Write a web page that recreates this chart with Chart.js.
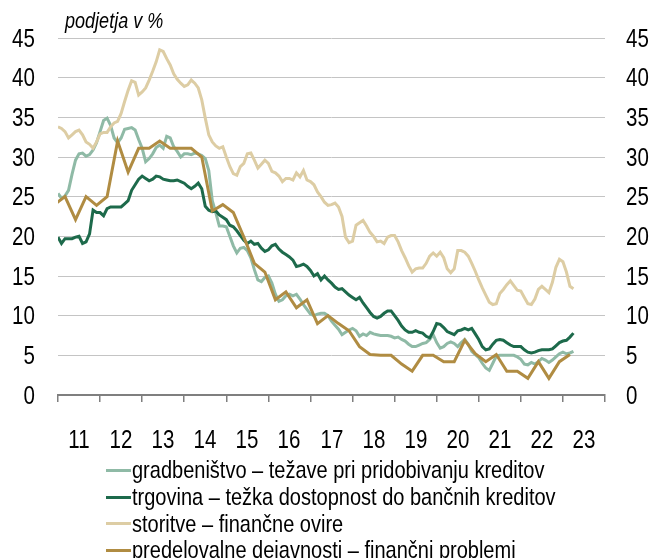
<!DOCTYPE html>
<html>
<head>
<meta charset="utf-8">
<script src="https://cdn.jsdelivr.net/npm/chart.js@4.4.1/dist/chart.umd.min.js"></script>
<style>
  html, body { margin: 0; padding: 0; background: #ffffff; }
  #wrap { position: relative; width: 652px; height: 558px; overflow: hidden; }
  .narrow { display: inline-block; transform: scaleX(0.82); transform-origin: left center; white-space: nowrap; }
  #title { position: absolute; left: 65px; top: 10px; font: italic 22px "Liberation Sans", Arial, sans-serif; color: #000; line-height: 22px; }
  #legend { position: absolute; left: 106px; top: 457px; font: 24.4px "Liberation Sans", Arial, sans-serif; color: #000; }
  .row { height: 26.7px; display: flex; align-items: center; white-space: nowrap; }
  .sw { display: inline-block; width: 25px; height: 3px; margin-right: 1px; flex: none; }
  .lbl { position: absolute; font: 25px "Liberation Sans", Arial, sans-serif; line-height: 25px; white-space: nowrap; color: #000; }
</style>
</head>
<body>
<div id="wrap">
  <canvas id="c" width="652" height="558"></canvas>
  <div id="title"><span class="narrow">podjetja v %</span></div>
  <div id="legend"></div>
</div>
<script>
// x axis: years (labels centred in each year band); monthly data start Jan 2011
const yearLabels = ['11','12','13','14','15','16','17','18','19','20','21','22','23'];
const yTicks = [0, 5, 10, 15, 20, 25, 30, 35, 40, 45];

const seriesNames = [
  'gradbeništvo – težave pri pridobivanju kreditov',
  'trgovina – težka dostopnost do bančnih kreditov',
  'storitve – finančne ovire',
  'predelovalne dejavnosti – finančni problemi'
];

// monthly, Jan 2011 onward
const gradbenistvo = [
  25.4, 24.8, 25.1, 25.8, 27.8, 29.6, 30.4, 30.5, 30.1, 30.3, 30.9, 31.8,
  33.2, 34.6, 34.9, 34.0, 32.4, 31.8, 32.4, 33.5, 33.6, 33.7, 33.4, 32.2,
  31.1, 29.4, 29.8, 30.4, 31.2, 31.5, 31.1, 32.6, 32.4, 31.3, 30.7, 30.0,
  30.4, 30.4, 30.3, 30.5, 30.4, 30.2, 29.8, 28.3, 24.5, 23.0, 21.3, 21.3,
  21.2, 20.0, 18.8, 17.9, 18.5, 18.6, 18.2, 17.3, 15.8, 14.5, 14.3, 14.8,
  15.0, 14.1, 12.7, 11.8, 12.0, 12.5, 12.7, 12.5, 12.7, 12.1, 11.4, 10.8,
  10.2, 10.0, 10.2, 10.3, 10.3, 10.0, 9.3, 8.8, 8.3, 7.6, 7.9, 8.2,
  8.4, 8.1, 7.4, 7.7, 7.5, 7.9, 7.7, 7.6, 7.5, 7.5, 7.5, 7.4,
  7.2, 7.3, 7.0, 6.8, 6.4, 6.1, 6.1, 6.3, 6.5, 6.6, 7.0, 7.6,
  6.6, 5.9, 6.1, 6.5, 6.7, 6.5, 6.1, 6.6, 7.0, 6.4, 5.5, 5.1,
  4.7, 4.0, 3.4, 3.1, 4.0, 4.9, 5.0, 5.0, 5.0, 5.0, 5.0, 4.8,
  4.5, 3.9, 3.8, 4.1, 3.9, 4.2, 4.6, 4.4, 4.1, 4.4, 4.8, 5.2,
  5.4, 5.2, 5.3, 5.5
];

const trgovina = [
  19.9, 19.1, 19.7, 19.7, 19.7, 19.9, 20.0, 19.1, 19.3, 20.3, 23.3, 23.0,
  23.0, 22.6, 23.5, 23.7, 23.7, 23.7, 23.7, 24.1, 24.5, 25.8, 26.5, 27.2,
  27.6, 27.3, 27.0, 27.2, 27.6, 27.5, 27.2, 27.1, 27.0, 27.0, 27.1, 26.9,
  26.7, 26.3, 26.0, 26.3, 26.7, 26.0, 23.8, 23.3, 23.1, 23.2, 22.7, 22.4,
  22.1, 21.4, 21.2, 20.7, 20.1, 19.5, 19.1, 19.4, 19.0, 19.1, 18.5, 18.1,
  18.3, 18.8, 19.0, 18.4, 18.0, 17.7, 17.4, 17.0, 16.2, 16.3, 16.5, 16.2,
  15.7, 15.0, 15.3, 14.5, 15.0, 14.5, 14.1, 13.6, 13.3, 13.4, 13.0, 12.6,
  12.3, 12.0, 12.3, 11.6, 11.0, 10.4, 9.9, 9.7, 9.9, 10.3, 10.6, 10.6,
  10.0, 9.4, 8.7, 8.2, 7.9, 7.9, 8.1, 7.9, 7.8, 7.4, 7.2, 8.0,
  9.0, 8.9, 8.5, 8.0, 7.8, 7.6, 8.1, 8.2, 8.4, 8.2, 8.4, 7.7,
  7.0, 6.1, 5.7, 5.8, 6.4, 6.9, 7.0, 6.9, 6.6, 6.3, 6.1, 6.1,
  6.1, 5.7, 5.4, 5.3, 5.4, 5.6, 5.7, 5.7, 5.7, 5.8, 6.2, 6.6,
  6.8, 6.9, 7.3, 7.8
];

const storitve = [
  33.8, 33.6, 33.2, 32.4, 32.8, 33.2, 33.4, 32.8, 31.9, 31.6, 31.1, 31.9,
  32.9, 33.1, 33.1, 33.8, 34.3, 34.5, 35.5, 37.0, 38.4, 39.6, 39.4, 37.8,
  38.2, 38.7, 39.7, 40.8, 42.0, 43.5, 43.3, 42.4, 41.6, 40.5, 39.8, 39.3,
  38.9, 39.1, 39.7, 39.3, 38.7, 37.2, 34.9, 32.8, 31.9, 31.4, 31.1, 31.3,
  30.0, 28.8, 27.9, 27.7, 28.8, 29.2, 30.4, 30.5, 29.6, 28.6, 29.1, 29.6,
  29.2, 28.2, 28.0, 27.6, 26.9, 27.3, 27.3, 27.1, 28.0, 27.5, 28.3, 27.1,
  26.9, 26.5, 25.6, 25.0, 24.3, 23.9, 24.0, 24.2, 23.7, 22.5, 19.9, 19.2,
  19.4, 21.4, 21.7, 22.0, 21.3, 20.5, 20.0, 19.3, 19.4, 19.1, 19.9, 20.1,
  20.1, 19.3, 18.2, 17.3, 16.3, 15.5, 15.9, 16.0, 16.0, 16.6, 17.5, 17.9,
  17.5, 18.0, 17.3, 15.9, 15.4, 15.9, 18.2, 18.2, 18.0, 17.5, 16.6, 15.6,
  14.5, 13.5, 12.6, 11.7, 11.4, 11.5, 12.8, 13.3, 13.9, 14.4, 13.8, 13.2,
  13.1, 12.3, 11.5, 11.4, 12.1, 13.3, 13.7, 13.3, 12.9, 14.2, 16.1, 17.1,
  16.8, 15.5, 13.7, 13.4
];

// quarterly, Dec 2010 then Mar, Jun, Sep, Dec ...
const predelovalne = [
  24.0,
  25.0, 22.1, 25.0, 23.9,
  25.0, 32.0, 28.1, 31.1,
  31.1, 32.0, 31.1, 31.1,
  31.1, 30.0, 23.2, 24.0,
  23.0, 19.9, 16.6, 15.5,
  12.0, 13.0, 11.0, 12.0,
  9.0, 10.0, 9.0, 8.1,
  6.1, 5.1, 5.0, 5.0,
  3.9, 3.0, 5.0, 5.0,
  4.2, 4.2, 6.9, 5.2,
  4.2, 5.1, 3.0, 3.0,
  2.1, 4.2, 2.1, 4.2,
  5.1
];

const colors = ['#8fbaa6', '#1d6a4b', '#ddcda4', '#b08c42'];

// month index: 0 = Jan 2011
const monthly = arr => arr.map((v, i) => ({ x: i, y: v }));
const quarterly = arr => arr.map((v, i) => ({ x: 3 * i - 1, y: v }));

const mk = (label, data, color, order) => ({
  label, data, borderColor: color, backgroundColor: color,
  borderWidth: 3, pointRadius: 0, tension: 0, fill: false, order,
  clip: { left: 0, right: 0, top: false, bottom: false }
});

const chart = new Chart(document.getElementById('c'), {
  type: 'line',
  data: {
    datasets: [
      mk(seriesNames[0], monthly(gradbenistvo), colors[0], 3),
      mk(seriesNames[1], monthly(trgovina), colors[1], 1),
      mk(seriesNames[2], monthly(storitve), colors[2], 2),
      mk(seriesNames[3], quarterly(predelovalne), colors[3], 0)
    ]
  },
  options: {
    responsive: false,
    animation: false,
    layout: { padding: { top: 38, left: 0, right: 0, bottom: 0 } },
    plugins: { legend: { display: false }, tooltip: { enabled: false }, title: { display: false } },
    scales: {
      x: {
        type: 'linear', position: 'bottom', min: 0, max: 156,
        afterBuildTicks: s => { s.ticks = yearLabels.map((_, i) => ({ value: i * 12 })).concat([{ value: 156 }]); },
        ticks: { display: false },
        grid: { drawOnChartArea: false, drawTicks: true, tickLength: 7, color: '#7f7f7f', lineWidth: 1.5 },
        border: { display: true, color: '#7f7f7f', width: 2 },
        afterFit: s => { s.height = 163; }
      },
      y: {
        position: 'left', min: 0, max: 45,
        afterBuildTicks: s => { s.ticks = yTicks.map(v => ({ value: v })); },
        ticks: { display: false },
        grid: { color: '#c4c4c4', lineWidth: 1, drawTicks: false },
        border: { display: false },
        afterFit: s => { s.width = 58; }
      },
      y2: {
        position: 'right', min: 0, max: 45,
        afterBuildTicks: s => { s.ticks = yTicks.map(v => ({ value: v })); },
        ticks: { display: false },
        grid: { drawOnChartArea: false, drawTicks: false },
        border: { display: false },
        afterFit: s => { s.width = 47; }
      }
    }
  }
});

// Tick labels as narrow HTML text, positioned via the chart's scales
const wrap = document.getElementById('wrap');
const ca = chart.chartArea;
function addLabel(text, css) {
  const d = document.createElement('div');
  d.className = 'lbl';
  d.textContent = text;
  Object.assign(d.style, css);
  wrap.appendChild(d);
}
yTicks.forEach(v => {
  const py = chart.scales.y.getPixelForValue(v);
  addLabel(String(v), { right: (652 - (ca.left - 23)) + 'px', top: (py - 12.5) + 'px', transform: 'scaleX(0.82)', transformOrigin: 'right center' });
  addLabel(String(v), { left: (ca.right + 21) + 'px', top: (py - 12.5) + 'px', transform: 'scaleX(0.82)', transformOrigin: 'left center' });
});
yearLabels.forEach((t, i) => {
  const px = chart.scales.x.getPixelForValue(i * 12 + 6);
  addLabel(t, { left: px + 'px', top: (ca.bottom + 32) + 'px', transform: 'scaleX(0.82) translateX(-50%)', transformOrigin: 'left top' });
});

// HTML legend from datasets
const leg = document.getElementById('legend');
chart.data.datasets.forEach(ds => {
  const row = document.createElement('div');
  row.className = 'row';
  const sw = document.createElement('span');
  sw.className = 'sw';
  sw.style.background = ds.borderColor;
  const t = document.createElement('span');
  t.className = 'narrow';
  t.textContent = ds.label;
  row.appendChild(sw); row.appendChild(t);
  leg.appendChild(row);
});
</script>
</body>
</html>
